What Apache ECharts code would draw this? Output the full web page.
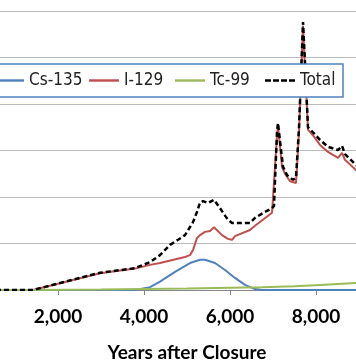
<!DOCTYPE html>
<html>
<head>
<meta charset="utf-8">
<script src="https://cdn.jsdelivr.net/npm/echarts@6/dist/echarts.min.js"></script>
<style>
html,body{margin:0;padding:0;background:#fff;}
#chart{width:356px;height:364px;}
</style>
</head>
<body>
<div id="chart"></div>
<script>
// ---- data (years after closure, relative dose units = gridline steps) ----
const seriesNames = ['Cs-135', 'I-129', 'Tc-99', 'Total'];

const csYears = [0, 3791, 4140, 4372, 4721, 5070, 5302, 5419, 5651, 5884, 6116, 6349, 6581, 6744, 10000];
const csValues = [0, 0, 0.06, 0.18, 0.39, 0.58, 0.65, 0.65, 0.58, 0.43, 0.26, 0.11, 0.02, 0, 0];

const iYears = [0, 1419, 2977, 3791, 4140, 4372, 4953, 5070, 5140, 5233, 5302, 5419, 5535, 5628, 5814, 5953, 6047, 6116, 6465, 6581, 6977, 7023, 7093, 7116, 7163, 7209, 7279, 7395, 7535, 7605, 7698, 7744, 7814, 7953, 8093, 8279, 8512, 8605, 8674, 8930, 9500, 10000];
const iValues = [0, 0, 0.36, 0.46, 0.54, 0.58, 0.71, 0.75, 0.86, 1.12, 1.18, 1.25, 1.27, 1.35, 1.18, 1.10, 1.08, 1.16, 1.29, 1.38, 1.66, 1.70, 3.3, 3.52, 3.1, 2.65, 2.5, 2.34, 2.30, 3.4, 5.68, 4.8, 3.45, 3.30, 3.12, 2.97, 2.84, 2.95, 2.80, 2.58, 2.25, 2.0];

const tcYears = [0, 1419, 3000, 4000, 5000, 6000, 6744, 7500, 8093, 8930, 10000];
const tcValues = [0, 0, 0.01, 0.02, 0.03, 0.05, 0.06, 0.08, 0.11, 0.15, 0.18];

const totalYears = [0, 1419, 2977, 3791, 4140, 4372, 4605, 4791, 4953, 5140, 5233, 5302, 5372, 5488, 5628, 5767, 5884, 5953, 6047, 6465, 6581, 6814, 6977, 7023, 7093, 7116, 7163, 7233, 7326, 7465, 7535, 7605, 7698, 7744, 7814, 7953, 8093, 8279, 8512, 8605, 8674, 8930, 9500, 10000];
const totalValues = [0, 0, 0.37, 0.47, 0.60, 0.75, 0.97, 1.08, 1.18, 1.46, 1.68, 1.88, 1.91, 1.87, 1.94, 1.76, 1.60, 1.51, 1.44, 1.44, 1.55, 1.68, 1.76, 1.81, 3.4, 3.59, 3.2, 2.65, 2.47, 2.37, 2.41, 3.5, 5.76, 4.9, 3.5, 3.37, 3.23, 3.08, 3.01, 3.10, 2.92, 2.69, 2.35, 2.1];

const xTickValues = [0, 2000, 4000, 6000, 8000, 10000];
const xTickLabels = ['0', '2,000', '4,000', '6,000', '8,000', '10,000'];
const xAxisTitle = 'Years after Closure';

// ---- chart ----
function pairs(xs, ys) { return xs.map((x, i) => [x, ys[i]]); }

const colors = ['#4f81bd', '#c0504d', '#9bbb59', '#000000'];
const legendFont = "'Liberation Sans Narrow', 'DejaVu Sans Condensed', 'Liberation Sans', sans-serif";
const legendLefts = [-6, 89, 175, 265];
const solidIcon = 'path://M0,0h30v2h-30z';
const dashIcon = 'path://M0,0h6v2.4h-6z M8,0h6v2.4h-6z M16,0h6v2.4h-6z M24,0h6v2.4h-6z';

const chart = echarts.init(document.getElementById('chart'), null, {renderer: 'canvas'});
const option = {
  animation: false,
  backgroundColor: '#ffffff',
  grid: {left: -28, right: -46, top: -35.5, bottom: 74, containLabel: false, outerBoundsMode: 'none'},
  xAxis: {
    type: 'value', min: 0, max: 10000, interval: 2000,
    axisLine: {show: true, lineStyle: {color: '#868686', width: 1}},
    axisTick: {show: true, length: 5, lineStyle: {color: '#868686'}},
    splitLine: {show: false},
    axisLabel: {
      margin: 17, color: '#000', fontFamily: 'Lato', fontWeight: 'bold', fontSize: 19,
      formatter: v => xTickLabels[xTickValues.indexOf(v)]
    },
    name: xAxisTitle, nameLocation: 'middle', nameGap: 53,
    nameTextStyle: {color: '#000', fontFamily: 'Lato', fontWeight: 'bold', fontSize: 19}
  },
  yAxis: {
    type: 'value', min: 0, max: 7, interval: 1,
    axisLine: {show: false}, axisTick: {show: false}, axisLabel: {show: false},
    splitLine: {show: true, lineStyle: {color: '#bcbcbc', width: 1}}
  },
  legend: seriesNames.map((n, i) => ({
    data: [{name: n, icon: i === 3 ? dashIcon : solidIcon}],
    left: legendLefts[i], top: 71.5, padding: 0,
    itemWidth: 30, itemHeight: 2.4, symbolKeepAspect: false, selectedMode: false, z: 5,
    itemStyle: {color: colors[i], borderWidth: 0},
    textStyle: {fontFamily: legendFont, fontSize: 17, lineHeight: 18, color: '#222'}
  })),
  graphic: [{
    type: 'rect', z: 3, silent: true,
    shape: {x: -10, y: 64, width: 353, height: 33},
    style: {fill: '#fff', stroke: '#4f81bd', lineWidth: 1.5}
  }],
  series: [
    {name: 'Cs-135', type: 'line', data: pairs(csYears, csValues), symbol: 'none', z: 2,
     lineStyle: {color: colors[0], width: 2}, itemStyle: {color: colors[0]}},
    {name: 'I-129', type: 'line', data: pairs(iYears, iValues), symbol: 'none', z: 2,
     lineStyle: {color: colors[1], width: 2}, itemStyle: {color: colors[1]}},
    {name: 'Tc-99', type: 'line', data: pairs(tcYears, tcValues), symbol: 'none', z: 2,
     lineStyle: {color: colors[2], width: 2}, itemStyle: {color: colors[2]}},
    {name: 'Total', type: 'line', data: pairs(totalYears, totalValues), symbol: 'none', z: 2,
     lineStyle: {color: colors[3], width: 2.5, type: [5, 3]}, itemStyle: {color: colors[3]}}
  ]
};
chart.setOption(option);
</script>
</body>
</html>
